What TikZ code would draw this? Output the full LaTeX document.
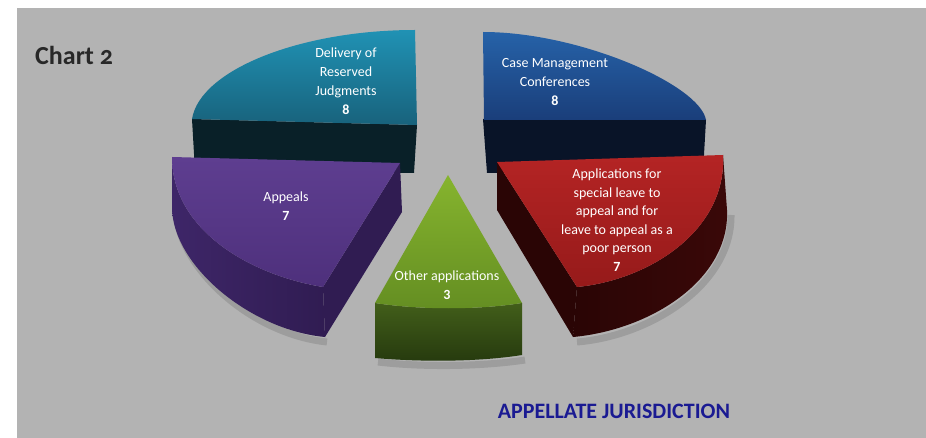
\documentclass[tikz,border=0pt]{standalone}
\usepackage{fontspec}
\setmainfont{Carlito}
\definecolor{bggray}{RGB}{179,179,179}
\definecolor{tealA}{RGB}{32,146,180}
\definecolor{tealB}{RGB}{24,98,124}
\definecolor{tealF}{RGB}{9,32,40}
\definecolor{blueA}{RGB}{38,98,168}
\definecolor{blueB}{RGB}{26,62,122}
\definecolor{blueF}{RGB}{9,20,40}
\definecolor{purA}{RGB}{94,62,144}
\definecolor{purB}{RGB}{78,48,124}
\definecolor{purS}{RGB}{62,38,104}
\definecolor{purC}{RGB}{48,28,82}
\definecolor{redA}{RGB}{180,36,36}
\definecolor{redB}{RGB}{150,26,26}
\definecolor{redS}{RGB}{58,8,8}
\definecolor{redC}{RGB}{42,5,5}
\definecolor{grnA}{RGB}{134,180,46}
\definecolor{grnB}{RGB}{100,142,34}
\definecolor{grnF}{RGB}{66,94,26}
\definecolor{grnG}{RGB}{38,58,14}
\definecolor{titleblue}{RGB}{26,26,146}
\definecolor{charttxt}{RGB}{40,40,40}
\begin{document}
\begin{tikzpicture}[x=1pt,y=-1pt,
  lbl/.style={text=white,align=center,font=\fontsize{14}{19}\selectfont,inner sep=0pt},
  shadowline/.style={draw=black,opacity=0.12,line width=7pt}]
\useasboundingbox (0,0) rectangle (926,438);
\fill[white] (0,0) rectangle (926,438);
\fill[bggray] (17,8) rectangle (926,438);

% ---- teal slice (back left)
\fill[tealF] (192,119) -- (417,125) -- (414,173) -- (195,171) -- cycle;
\shade[top color=tealA,bottom color=tealB] (192,119) .. controls (200,70) and (300,30) .. (415,30) -- (417,125) -- cycle;

% ---- blue slice (back right)
\fill[blueF] (483,119) -- (706,120) -- (703,172) -- (487,173) -- cycle;
\shade[top color=blueA,bottom color=blueB] (483,32) .. controls (580,32) and (700,85) .. (706,120) -- (484,120) -- cycle;

% ---- shadows
\draw[shadowline] (176,212) .. controls (180,270) and (252,334) .. (327,342);
\draw[shadowline] (577,342) .. controls (650,336) and (732,285) .. (731,215);
\draw[shadowline] (378,362) .. controls (420,367) and (478,367) .. (525,360);

% ---- purple slice (Appeals)
\shade[left color=purS,right color=purC] (172,157) .. controls (172,230) and (250,275) .. (323,287) -- (325,337) .. controls (250,330) and (172,265) .. (172,207) -- cycle;
\fill[purC] (400,163) -- (402,212) -- (325,337) -- (323,287) -- cycle;
\shade[top color=purA,bottom color=purB] (172,157) -- (400,163) -- (323,287) .. controls (250,275) and (172,230) .. (172,157) -- cycle;

% ---- red slice (Applications)
\fill[redC] (497,162) -- (577,287) -- (573,337) -- (497,210) -- cycle;
\shade[left color=redC,right color=redS] (723,155) -- (727,210) .. controls (730,280) and (650,330) .. (573,337) -- (577,287) .. controls (650,280) and (727,230) .. (723,155) -- cycle;
\shade[top color=redA,bottom color=redB] (497,162) -- (723,155) .. controls (727,230) and (650,280) .. (577,287) -- cycle;

% ---- green slice (Other applications)
\shade[top color=grnF,bottom color=grnG] (375,303) .. controls (420,310) and (478,310) .. (522,303) -- (522,355) .. controls (478,362) and (420,362) .. (375,358) -- cycle;
\shade[top color=grnA,bottom color=grnB] (448,175) -- (522,303) .. controls (478,310) and (420,310) .. (375,303) -- cycle;

% ---- labels
\node[lbl] (teallbl) at (346,81) {Delivery of\\Reserved\\Judgments\\\textbf{8}};
\node[lbl] (bluelbl) at (555,82) {Case Management\\Conferences\\\textbf{8}};
\node[lbl] (purlbl) at (286,206) {Appeals\\\textbf{7}};
\node[lbl,font=\fontsize{14}{18.5}\selectfont] (redlbl) at (617,220) {Applications for\\special leave to\\appeal and for\\leave to appeal as a\\poor person\\\textbf{7}};
\node[lbl] (grnlbl) at (447,285) {Other applications\\\textbf{3}};

\node[anchor=west,inner sep=0pt,text=charttxt,font=\fontsize{26}{30}\selectfont\bfseries\addfontfeatures{Numbers=OldStyle}] (chart) at (35,55) {Chart 2};
\node[inner sep=0pt,text=titleblue,font=\fontsize{22}{26}\selectfont\bfseries] (title) at (614,411) {APPELLATE JURISDICTION};
\end{tikzpicture}
\end{document}
